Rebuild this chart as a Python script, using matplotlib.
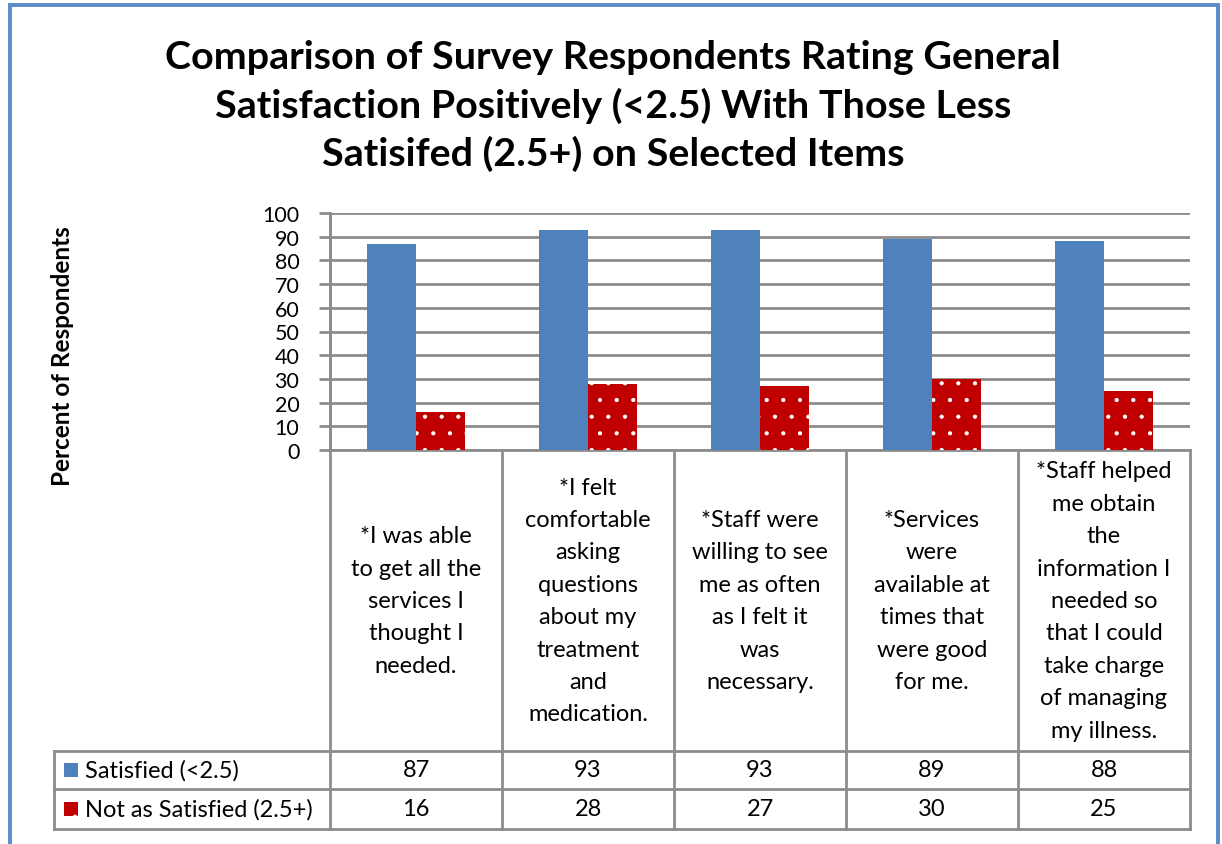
import matplotlib.pyplot as plt
import matplotlib.transforms as mtransforms
from matplotlib.patches import Rectangle
from matplotlib.lines import Line2D

plt.rcParams['font.family'] = ['Lato', 'DejaVu Sans']
plt.rcParams['hatch.linewidth'] = 0.6

# data
categories = ['*I was able\nto get all the\nservices I\nthought I\nneeded.',
              '*I felt\ncomfortable\nasking\nquestions\nabout my\ntreatment\nand\nmedication.',
              '*Staff were\nwilling to see\nme as often\nas I felt it\nwas\nnecessary.',
              '*Services\nwere\navailable at\ntimes that\nwere good\nfor me.',
              '*Staff helped\nme obtain\nthe\ninformation I\nneeded so\nthat I could\ntake charge\nof managing\nmy illness.']
satisfied = [87, 93, 93, 89, 88]
not_satisfied = [16, 28, 27, 30, 25]
series_names = ['Satisfied (<2.5)', 'Not as Satisfied (2.5+)']
title = ('Comparison of Survey Respondents Rating General\n'
         'Satisfaction Positively (<2.5) With Those Less\n'
         'Satisifed (2.5+) on Selected Items')

W, H = 1222, 845
blue = '#4F81BD'
red = '#C00000'
grid = '#8C8C8C'
fs = 17

fig = plt.figure(figsize=(W / 100, H / 100), dpi=100)

def fx(px):
    return px / W

def fy(py):
    return 1 - py / H

# outer border
fig.add_artist(Rectangle((fx(10), fy(900)), fx(1208), (900 - 6) / H,
                         transform=fig.transFigure, fill=False,
                         edgecolor='#5B8CC8', lw=2.8))

fig.text(fx(613), fy(106), title, ha='center', va='center', fontsize=28.4,
         fontweight='bold', linespacing=1.41)

x0, x1, ytop, ybot = 330, 1190, 214, 451
ax = fig.add_axes([fx(x0), fy(ybot), fx(x1 - x0), (ybot - ytop) / H])
n = len(categories)
w = 0.285
xs = [i + 0.5 for i in range(n)]
ax.bar([x - w for x in xs], satisfied, width=w, align='edge', color=blue,
       zorder=3)
ax.bar(xs, not_satisfied, width=w, align='edge', color=red,
       edgecolor='white', linewidth=0, hatch='.', zorder=3)
ax.set_xlim(0, n)
ax.set_ylim(0, 100)
ax.set_yticks(range(0, 101, 10))
ax.set_xticks([])
ax.grid(axis='y', color=grid, lw=2, zorder=0)
for s in ['top', 'right']:
    ax.spines[s].set_visible(False)
ax.spines['left'].set_color(grid)
ax.spines['bottom'].set_color(grid)
ax.spines['left'].set_linewidth(2)
ax.spines['bottom'].set_linewidth(2)
ax.tick_params(axis='y', length=8, width=2, color=grid, labelsize=15.5,
               pad=14)

fig.text(fx(62), fy(356), 'Percent of Respondents', rotation=90,
         ha='center', va='center', fontsize=17.5, fontweight='bold')

# data table
bt = mtransforms.blended_transform_factory(ax.transData, fig.transFigure)
row1, row2, row3 = 752, 790, 830
for i in range(n + 1):
    top = ytop if i == 0 else ybot
    fig.add_artist(Line2D([i, i], [fy(top), fy(row3)], transform=bt,
                          color=grid, lw=2))
for r in [row1, row2, row3]:
    fig.add_artist(Line2D([fx(54), fx(x1)], [fy(r), fy(r)],
                          transform=fig.transFigure, color=grid, lw=2))
fig.add_artist(Line2D([fx(54), fx(54)], [fy(row1), fy(row3)],
                      transform=fig.transFigure, color=grid, lw=2))

for i, lab in enumerate(categories):
    fig.text(xs[i], fy((ybot + row1) / 2), lab, transform=bt, ha='center',
             va='center', fontsize=fs, linespacing=1.67)
    fig.text(xs[i], fy((row1 + row2) / 2), str(satisfied[i]), transform=bt,
             ha='center', va='center', fontsize=fs)
    fig.text(xs[i], fy((row2 + row3) / 2), str(not_satisfied[i]),
             transform=bt, ha='center', va='center', fontsize=fs)

for k, (name, col) in enumerate(zip(series_names, [blue, red])):
    cy = (row1 + row2) / 2 if k == 0 else (row2 + row3) / 2
    fig.add_artist(Rectangle((fx(64), fy(cy + 7)), fx(14), 14 / H,
                             transform=fig.transFigure, facecolor=col,
                             edgecolor='white', lw=0,
                             hatch='.' if k == 1 else None))
    fig.text(fx(85), fy(cy), name, ha='left', va='center', fontsize=fs)

fig.savefig('out.png', dpi=100)
